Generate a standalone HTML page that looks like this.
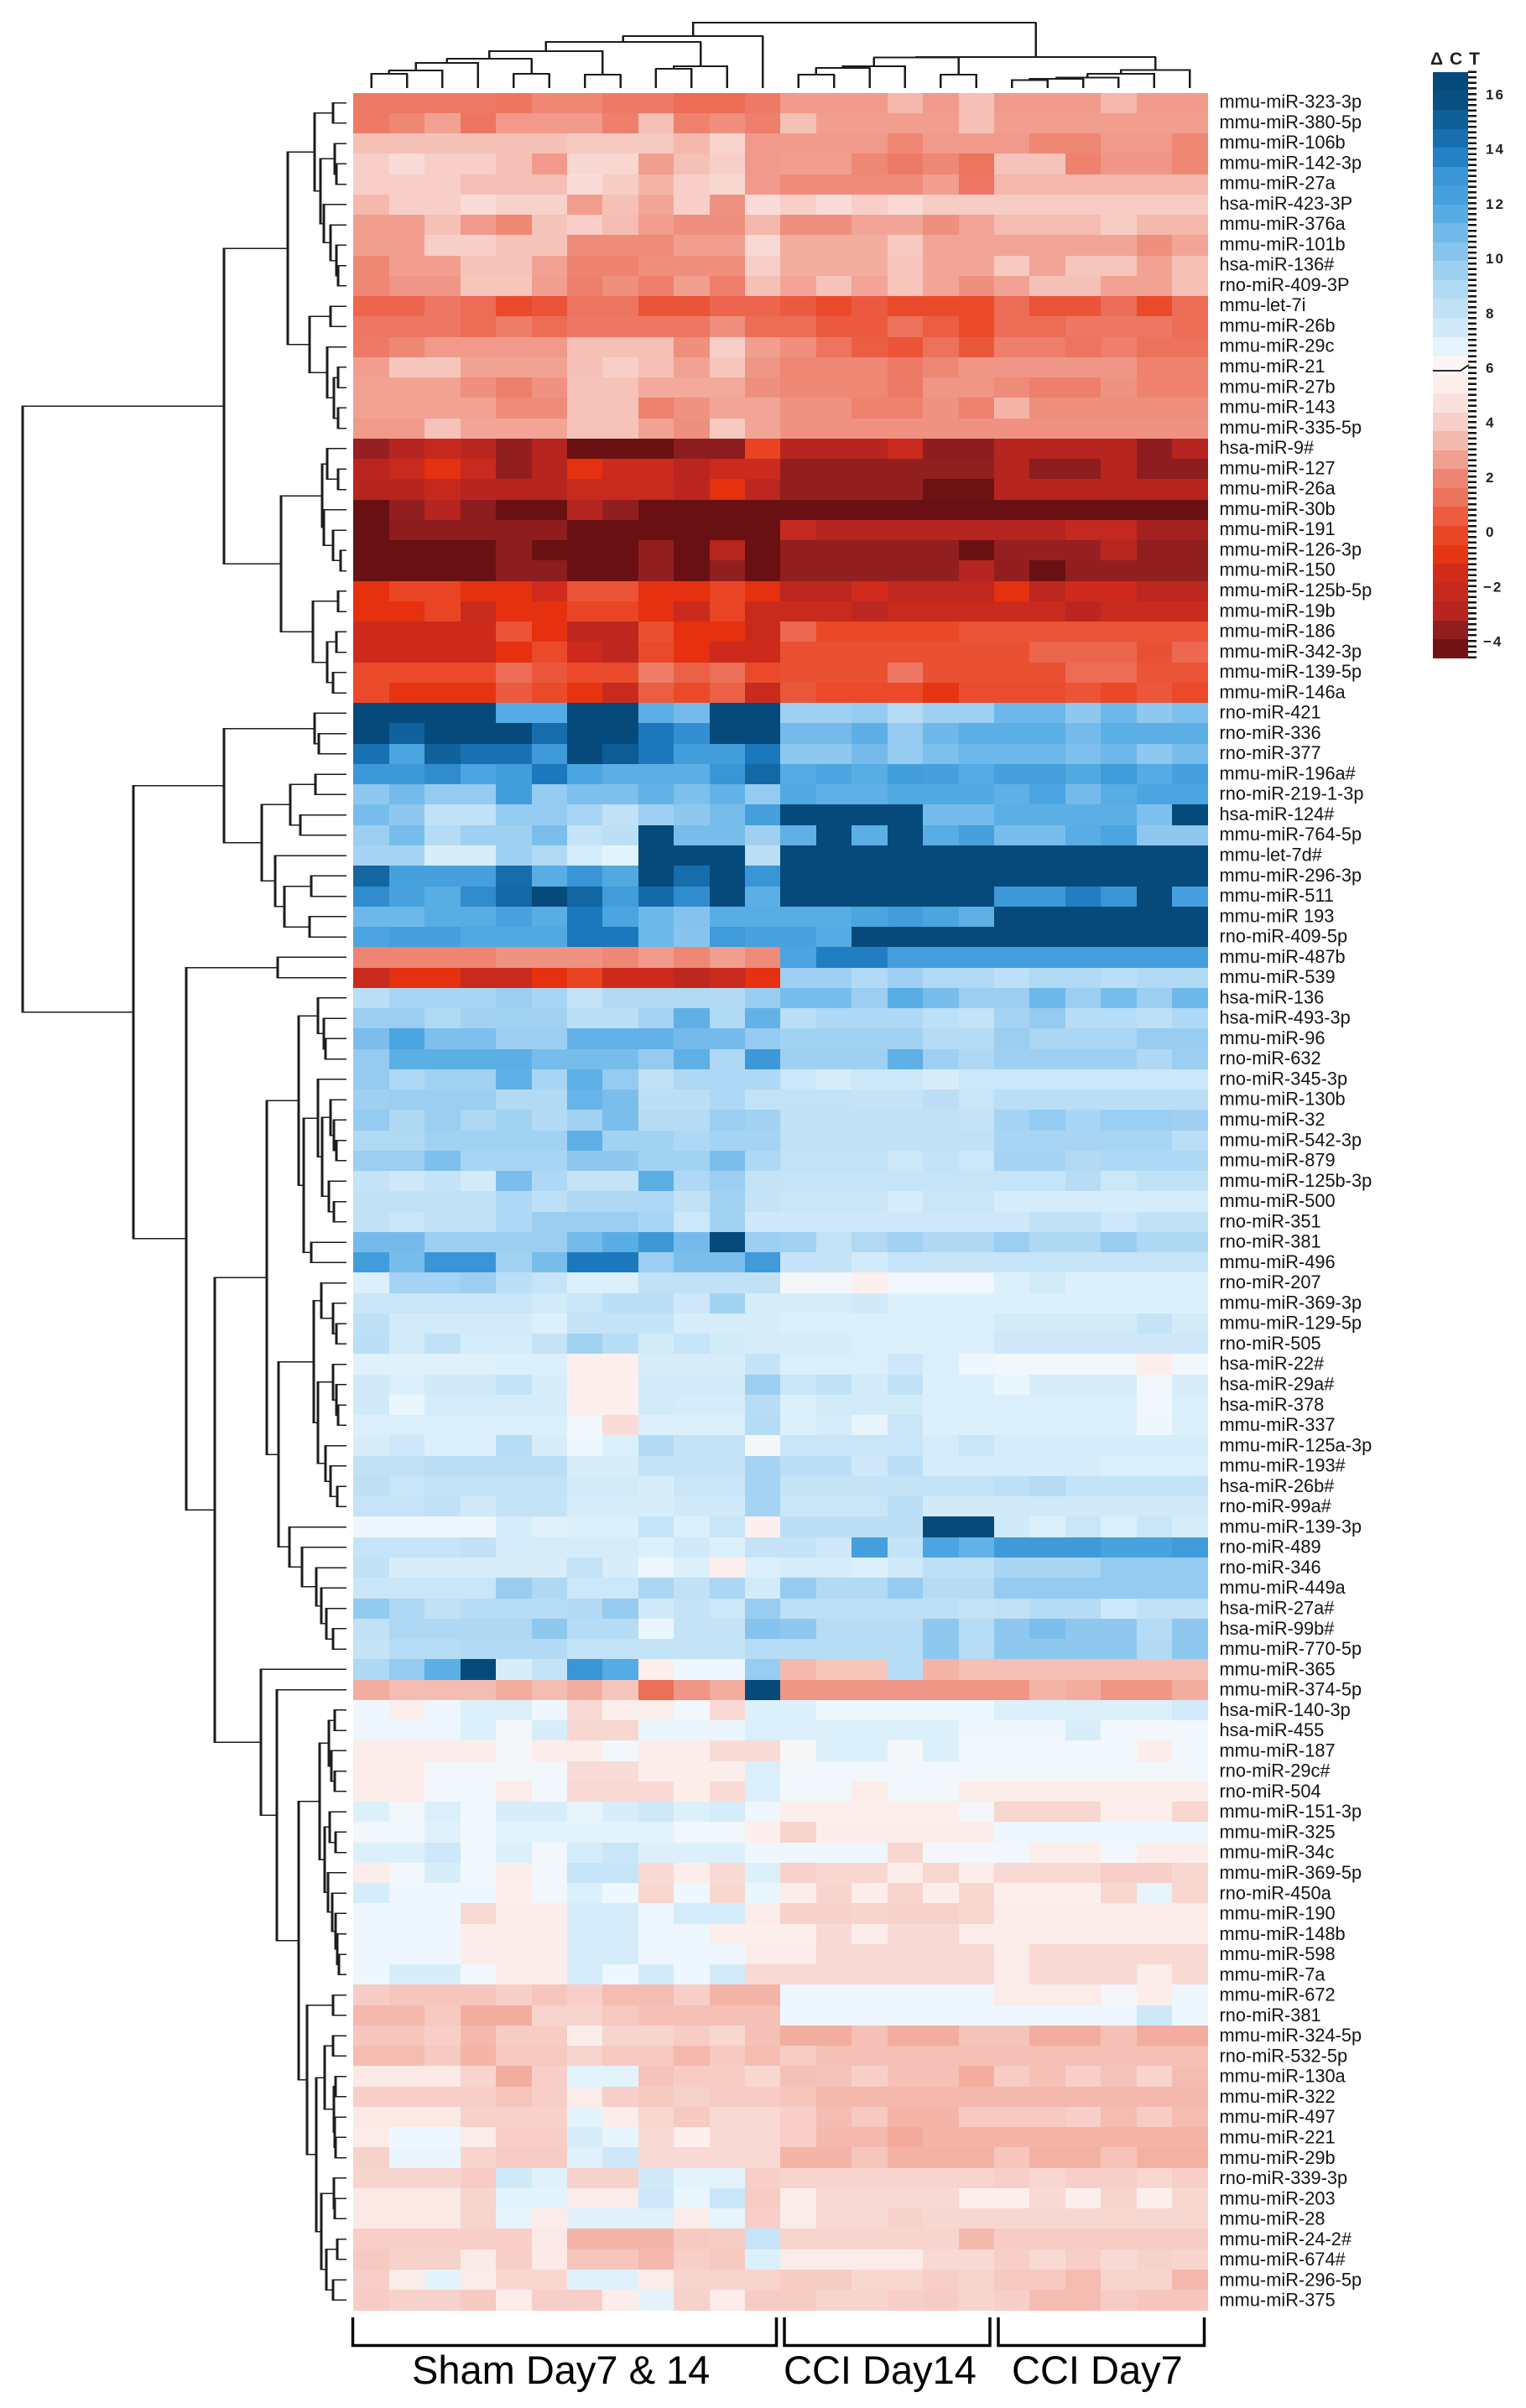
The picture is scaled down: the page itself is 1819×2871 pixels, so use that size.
<!DOCTYPE html>
<html lang="en">
<head>
<meta charset="utf-8">
<title>miRNA expression heatmap</title>
<style>
html,body{margin:0;padding:0;background:#fff;}
svg{display:block;font-family:"Liberation Sans",sans-serif;}
</style>
</head>
<body>
<svg id="chart" xmlns="http://www.w3.org/2000/svg" width="1819" height="2871" viewBox="0 0 1819 2871">
<rect x="0" y="0" width="1819" height="2871" fill="#ffffff"/>
<g id="heat" shape-rendering="crispEdges"></g>
<g id="rowDendro" shape-rendering="crispEdges"></g>
<g id="colDendro" shape-rendering="crispEdges"></g>
<g id="rowLabels"></g>
<g id="legend">
<text x="1705" y="77" font-size="21" font-weight="bold" fill="#222" textLength="59" lengthAdjust="spacing">ΔCT</text>
<g id="legendBands" shape-rendering="crispEdges"></g>
<g id="legendTicks" shape-rendering="crispEdges"></g>
<g id="legendLabels"></g>
<polyline points="1708,442 1741,442 1751,435" fill="none" stroke="#111" stroke-width="1.8"/>
</g>
<g fill="none" stroke="#0a0506">
<path d="M420.5 2763V2796.5H925.5V2763" stroke-width="3.5"/>
<path d="M935 2763V2796.5H1180V2763" stroke-width="3.5"/>
<path d="M1190 2763V2796.5H1435.5V2763" stroke-width="3.5"/>
</g>
<g font-size="47" fill="#000">
<text x="491" y="2842">Sham Day7 &amp; 14</text>
<text x="934" y="2842">CCI Day14</text>
<text x="1206" y="2842">CCI Day7</text>
</g>
</svg>
<script>
const rowNames = ["mmu-miR-323-3p","mmu-miR-380-5p","mmu-miR-106b","mmu-miR-142-3p","mmu-miR-27a","hsa-miR-423-3P","mmu-miR-376a","mmu-miR-101b","hsa-miR-136#","rno-miR-409-3P","mmu-let-7i","mmu-miR-26b","mmu-miR-29c","mmu-miR-21","mmu-miR-27b","mmu-miR-143","mmu-miR-335-5p","hsa-miR-9#","mmu-miR-127","mmu-miR-26a","mmu-miR-30b","mmu-miR-191","mmu-miR-126-3p","mmu-miR-150","mmu-miR-125b-5p","mmu-miR-19b","mmu-miR-186","mmu-miR-342-3p","mmu-miR-139-5p","mmu-miR-146a","rno-miR-421","rno-miR-336","rno-miR-377","mmu-miR-196a#","rno-miR-219-1-3p","hsa-miR-124#","mmu-miR-764-5p","mmu-let-7d#","mmu-miR-296-3p","mmu-miR-511","mmu-miR 193","rno-miR-409-5p","mmu-miR-487b","mmu-miR-539","hsa-miR-136","hsa-miR-493-3p","mmu-miR-96","rno-miR-632","rno-miR-345-3p","mmu-miR-130b","mmu-miR-32","mmu-miR-542-3p","mmu-miR-879","mmu-miR-125b-3p","mmu-miR-500","rno-miR-351","rno-miR-381","mmu-miR-496","rno-miR-207","mmu-miR-369-3p","mmu-miR-129-5p","rno-miR-505","hsa-miR-22#","hsa-miR-29a#","hsa-miR-378","mmu-miR-337","mmu-miR-125a-3p","mmu-miR-193#","hsa-miR-26b#","rno-miR-99a#","mmu-miR-139-3p","rno-miR-489","rno-miR-346","mmu-miR-449a","hsa-miR-27a#","hsa-miR-99b#","mmu-miR-770-5p","mmu-miR-365","mmu-miR-374-5p","hsa-miR-140-3p","hsa-miR-455","mmu-miR-187","rno-miR-29c#","rno-miR-504","mmu-miR-151-3p","mmu-miR-325","mmu-miR-34c","mmu-miR-369-5p","rno-miR-450a","mmu-miR-190","mmu-miR-148b","mmu-miR-598","mmu-miR-7a","mmu-miR-672","rno-miR-381","mmu-miR-324-5p","rno-miR-532-5p","mmu-miR-130a","mmu-miR-322","mmu-miR-497","mmu-miR-221","mmu-miR-29b","rno-miR-339-3p","mmu-miR-203","mmu-miR-28","mmu-miR-24-2#","mmu-miR-674#","mmu-miR-296-5p","mmu-miR-375"];

const deltaCt = [
[1.5,1.5,1.5,1.5,1.3,2,2,1.5,1.5,1,1,1.5,2.5,2.5,2.5,3.3,2.5,3.5,2.5,2.5,2.5,3.3,2.5,2.5],
[1.5,2,2.7,1.3,2.5,2.5,2.5,1.7,3.5,1.8,2.2,1.7,3.5,2.6,2.6,2.6,2.6,3.5,2.6,2.6,2.6,2.6,2.6,2.6],
[3.5,3.5,3.5,3.5,3.5,3.5,3.8,3.8,3.8,3.3,4.2,2.5,2.5,2.5,2.5,2,2.5,2.5,2.5,2,2,2.5,2.5,2],
[4,4.5,4,4,3.5,2.5,4.3,4.3,2.6,3.5,4,2.5,2.6,2.6,2,1.5,2,1.3,3.6,3.6,1.8,2.4,2.4,2],
[4,4,4,3.5,3.5,3.5,4.5,3.9,3.2,4,4.3,2.5,2.1,2.1,2.1,2.1,2.6,1.4,3.3,3.3,3.3,3.3,3.3,3.3],
[3.3,4,4,4.5,4.1,4.1,2.6,3.5,2.8,4,2.3,4.5,4,4.5,4,4.4,3.9,3.9,3.9,3.9,3.9,3.9,3.9,3.9],
[2.6,2.6,3.5,2.5,2,3.6,4,3.4,2.6,2.2,2.2,3.3,2.2,2.2,2.8,2.8,2.2,2.8,3.4,3.4,3.4,3.9,3.3,3.3],
[2.6,2.6,4,4,3.6,3.6,2.1,2.1,2.1,2.6,2.6,4.4,3,3,3,3.8,2.8,2.8,2.8,2.8,2.8,2.8,2.2,2.8],
[2,2.6,2.6,3.6,3.6,2.7,1.8,1.8,2.2,2.2,2.2,4,3,3,3,3.7,2.8,2.8,3.8,2.8,3.7,3.7,2.7,3.5],
[2,2.4,2.4,3.7,3.7,2.6,1.7,2.2,1.7,2.6,1.7,3.5,2.8,3.6,2.8,3.7,2.8,2.2,2.7,3.5,3.5,2.7,2.7,3.5],
[0.8,0.8,1.4,1,0,0.3,1.3,1.3,0.3,0.3,0.8,0.8,0.5,0,0.5,0,0,0,1,0.3,0.3,1,0,1],
[1.4,1.4,1.4,1,1.6,1,1.4,1.4,1.4,1.4,2.2,1,1,0.5,0.5,1.2,0.6,0,1,1,1.4,1.4,1.4,1],
[1.5,2,2.5,2.5,2.5,2.5,3.5,3.5,3.5,2.2,4,2.6,2.2,1.3,0.6,0.3,1.2,0.4,1.7,1.7,1.3,1.7,1.2,1.2],
[2.6,3.7,3.7,2.7,2.7,2.7,3.5,4,3.5,2.7,3.7,2.4,2,2,2,1.5,2,2.4,2.4,2.4,2.4,2.4,1.8,1.8],
[2.7,2.7,2.7,2.2,1.7,2.3,3.6,3.6,2.9,2.9,2.9,2.2,2,2,2,1.5,2.4,2.4,2.1,1.7,1.7,2.3,1.8,1.8],
[2.7,2.7,2.7,2.7,2.1,2.1,3.6,3.6,1.8,2.3,2.8,2.8,2.3,2.3,1.8,1.8,2.3,1.8,3.2,2.2,2.2,2.2,2.2,2.2],
[2.5,2.5,3.6,2.8,2.8,2.8,3.6,3.6,2.7,2.2,3.8,2.8,2.3,2.3,2.3,2.3,2.3,2.3,2.3,2.3,2.3,2.3,2.3,2.3],
[-3.5,-3,-2.2,-2.8,-3.6,-3,-4.5,-4.5,-4.5,-3.7,-3.7,-0.3,-3,-3,-3,-2,-3.7,-3.7,-3,-3,-3,-3,-3.7,-3],
[-2.8,-2,-1,-2,-3.6,-3,-1,-1.9,-1.9,-2.8,-1.9,-1.9,-3.6,-3.6,-3.6,-3.6,-3.6,-3.6,-3,-3.7,-3.7,-3,-3.7,-3.7],
[-3,-3,-2.2,-3,-3,-3,-2,-2,-2,-2.8,-1,-2.7,-3.6,-3.6,-3.6,-3.6,-4.4,-4.4,-3,-3,-3,-3,-3,-3],
[-4.5,-3.6,-3,-3.7,-4.5,-4.5,-3,-3.6,-4.5,-4.5,-4.5,-4.5,-4.5,-4.5,-4.5,-4.5,-4.5,-4.5,-4.5,-4.5,-4.5,-4.5,-4.5,-4.5],
[-4.5,-3.7,-3.7,-3.7,-3.7,-3.7,-4.5,-4.5,-4.5,-4.5,-4.5,-4.5,-2.2,-3,-3,-3,-3,-3,-3,-3,-2.3,-2.3,-3.3,-3.3],
[-4.5,-4.5,-4.5,-4.5,-3.7,-4.5,-4.5,-4.5,-3.6,-4.5,-2.9,-4.5,-3.6,-3.6,-3.6,-3.6,-3.6,-4.5,-3.5,-3.5,-3.5,-2.9,-3.6,-3.6],
[-4.5,-4.5,-4.5,-4.5,-3.7,-3.7,-4.5,-4.5,-3.6,-4.5,-3.6,-4.5,-3.6,-3.6,-3.6,-3.6,-3.6,-3,-3.6,-4.5,-3.6,-3.6,-3.6,-3.6],
[-1,-0.2,-0.2,-1,-1,-1.7,0.3,0.3,-1,-1,-0.2,-1,-2.7,-2.7,-1.7,-2.5,-2.5,-2.5,-1,-2.7,-1.8,-1.8,-2.7,-2.7],
[-1,-1,-0.2,-2,-1,-1,-0.2,-0.2,-1,-1.9,-0.2,-2,-2,-2,-2.7,-2,-2,-2,-2,-2,-2.8,-2,-2,-2],
[-1.8,-1.8,-1.8,-1.8,0.3,-1,-2.6,-2.6,0.2,-1,-1,-2,0.9,-0.1,-0.1,-0.1,-0.1,0.3,0.3,0.3,0.3,0.3,0.3,0.3],
[-1.8,-1.8,-1.8,-1.8,-1,0,-1.8,-2.6,0,-1,-1.8,-1.8,0.2,0.2,0.2,0.2,0.2,0.2,0.2,0.8,0.8,0.8,0.2,0.9],
[0,0,0,0,1,0.4,0,0,1.6,0.7,1.1,0,0.2,0.2,0.2,1.4,0.2,0.2,0.2,0.2,1,1,0.3,0.3],
[0,-0.9,-0.9,-0.9,0.5,0,-0.9,-2,0.6,0,0.7,-2,0.4,0,0,0,-0.9,0.1,0.1,0.1,0.3,-0.1,0.4,0],
[16,16,16,16,11.7,11.7,16,16,11.5,10.8,16,16,9.5,9.5,9.8,8.7,9.5,9.5,11,11,10,11,10,10.5],
[16,15,16,16,16,14.5,16,16,14,13.2,16,16,10.8,10.8,11.5,9.8,11,11.5,11.5,11.5,10.8,11.5,11.5,11.5],
[14.3,12,15,14.3,14.3,12.7,16,15.2,14,12.5,12.5,14,10,10,10.8,9.8,10.5,11,11,11,10.5,11,10,10.7],
[12.8,12.8,13.3,12,12.5,14,12,11.5,11.5,11.5,13,14.7,11.7,12,11.6,12.5,12.3,11.7,12.3,12.3,11.8,12.6,11.7,12.3],
[10,10.8,9.8,9.8,12.5,9.8,10.5,10.5,11.3,10.5,11.3,9.8,11.8,11.4,11.4,11.8,11.8,11.8,11.4,12,10.8,11.6,12,12],
[10.7,10,8.2,8.2,9.8,9.8,9.2,8.2,9.5,10,10.7,12.4,16,16,16,16,10.8,10.8,11.5,11.5,11.5,11.5,10.5,16],
[9.6,10.7,8.7,9.5,9.5,10.6,8,8.4,16,10.7,10.7,9.5,11.4,16,11.5,16,11.6,12.3,10.7,10.7,11.6,12,10,10],
[9.3,9.3,7.2,7.2,9.5,8.8,7.3,6.8,16,16,16,8.4,16,16,16,16,16,16,16,16,16,16,16,16],
[14.8,12.3,12.3,12.3,14.5,11.6,13,11.8,16,14.5,16,13,16,16,16,16,16,16,16,16,16,16,16,16],
[13.3,12.2,11.6,13.3,14.7,16,14.8,12.5,14.6,13.3,16,11.5,16,16,16,16,16,16,12.8,12.8,13.8,13,16,12.3],
[11,11,11.6,11.6,12.2,11.6,14,12,11,10.3,11.6,11.6,11.6,11.6,12,12.5,12,11.4,16,16,16,16,16,16],
[12,12.3,12.3,11.8,11.8,11.8,14,14,11,10.2,12.6,12.2,12.2,11.7,16,16,16,16,16,16,16,16,16,16],
[1.9,1.9,1.9,1.9,2.3,2.3,2.3,2,2.5,2,2.6,2.1,12,13.8,13.8,12.4,12.4,12.4,12.4,12.4,12.4,12.4,12.4,12.4],
[-2,-1,-1,-2,-2,-1,-0.3,-1.8,-1.8,-2.7,-2,-1,9.5,9.5,8.8,9.5,8.9,8.9,8.3,8.9,8.9,8.4,8.9,8.9],
[8.5,9.2,9.2,9.2,9.6,9.2,8,8.8,8.8,8.8,8.8,9.7,10.7,10.7,9.6,11.6,10.7,9.6,9.6,11,9.6,10.7,9.6,11],
[9.6,9.6,8.9,9.4,9.4,9.4,8.4,8.4,9.3,11.4,8.9,11.3,8.5,9,9,9,8.3,8,9.3,9.8,8.6,8.6,8.3,9],
[10.6,12,10.5,10.5,9.6,9.6,11.3,11.3,11.3,10.8,10.8,9.8,9.4,9.4,9.4,9.4,8.7,8.7,9.6,9.1,9.1,9.1,9.7,9.7],
[9.8,11.5,11.5,11.5,11.5,10.7,10.7,10.7,9.8,11.4,9,12.8,9.5,9.5,9.5,11.4,9.5,9,9.5,9.5,9.5,9.5,9,9.6],
[9.8,9,9.4,9.4,11.4,9.2,11.4,9.8,8.2,9,9,9,7.7,7.2,7.7,7.7,7.2,7.7,7.7,7.7,7.7,7.7,7.7,7.7],
[9.5,9.6,9.6,9.6,8.8,8.8,11.2,10.6,8.4,8.4,9,8.1,8.1,8.1,8,8,8.4,7.8,8.5,8.5,8.5,8.5,8.5,8.5],
[9.8,9,9.6,9,9.4,8.8,9.4,10.6,8.7,8.7,9.6,9.4,8.2,8.2,8.2,8.2,8.2,8,9.3,9.8,9.2,9.6,9.6,9.5],
[8.9,8.9,9.4,9.4,9.4,9.4,11.4,9.4,9.4,9,9.3,9.3,8.2,8.2,8.2,8.2,8.2,8.2,9.2,9.2,9.2,9.2,9.2,8.5],
[9.6,9.6,10.5,9.2,9.2,9.2,10,10,9.4,9.4,10.6,9,8.1,8.1,8.1,7.7,8.1,7.7,9.3,9.3,8.8,9,9,9],
[8,7.6,8,7.4,10.6,9,8,8,11.5,9,9.6,8,7.9,7.9,7.9,7.9,7.9,7.9,7.9,7.9,8.6,7.7,8.2,8.2],
[8.2,8.2,8.2,8.2,9,8.3,9,9,9,8.2,9.4,8,7.8,7.8,7.8,7.3,7.8,7.8,7.3,7.3,7.3,7.3,7.3,7.3],
[8.2,7.8,8.2,8.2,9,9.6,9.6,9.6,9.2,7.7,9.4,7.6,7.6,7.6,7.6,7.6,7.6,7.6,7.6,8.2,8.2,7.6,8.2,8.2],
[10.8,10.8,9.6,9.6,9.6,9.6,10.8,11.6,12.8,10.8,16,9.6,9.4,8.1,8.9,9.4,9,9,9.6,9,9,9.7,9,9],
[12.5,10.7,13,13,9.4,10.7,14,14,9.6,10.6,10.6,12.6,8,8,7.4,7.9,7.9,7.9,7.9,7.9,7.9,7.9,7.9,7.9],
[7,9.3,9.3,9.6,8.4,7.9,7,7,8.2,8.2,8.2,8.2,6.3,6.4,5.5,6.4,6.4,6.4,7,7.4,7,7,7,7],
[7.8,7.8,7.8,7.8,7.8,7.4,7.8,8.4,8.4,7.6,9.4,7.2,7.2,7.2,7.5,7,7,7,7,7,7,7,7,7],
[8.3,7.4,7.4,7.4,7.4,7,8,8,8,7.2,7.2,7.2,7,7,7,7,7,7,7.4,7.4,7.4,7.4,8,7.4],
[8.4,7.4,8.2,7.3,7.3,8,9.4,8.6,7.4,7.9,7.4,7.3,7.3,7.3,7,7,7,7,7.6,7.6,7.6,7.6,7.6,7.6],
[6.9,6.9,6.9,6.9,7,7,5.5,5.5,7.2,7.2,7.2,8,7.1,7.1,7.1,7.6,7.1,6.5,6.4,6.4,6.4,6.4,5.4,6.4],
[7.5,7.1,7.5,7.5,8,7.2,5.5,5.5,7.4,7.4,7.4,9.6,7.8,8.2,7.4,8.2,7,7,6.6,7.2,7.2,7.2,6.4,7.2],
[7.5,6.6,7.3,7.3,7.3,7.3,5.5,5.5,7.4,7.3,7.3,8.6,7,7.4,7.4,7.4,7.1,7.1,7.1,7.1,7.1,7.1,6.4,7.1],
[7.1,7.1,7.1,7.1,7.1,7.1,6.4,4.5,7,7,7,8.7,7,7.3,6.7,7.8,7,7,7,7,7,7,6.5,7],
[7.2,7.6,7,7,8.6,7.2,6.5,7,8.8,8,8,6.3,7.8,7.8,7.8,7.8,7.3,7.8,7.3,7.3,7.3,7.3,7.3,7.3],
[8.2,8.2,8.5,8.5,8.5,8.5,7.2,7.2,8,8,8,9.3,8.4,8.4,7.6,8.4,7.3,7.3,7.3,7.3,7.3,7.1,7.1,7.1],
[8.3,7.8,8.1,8.1,8.1,8.1,7.4,7.4,7.2,7.8,7.8,9.3,8,8,8,8,8,8,8.3,8.7,8.1,8.1,8.1,8.1],
[7.9,7.9,8.2,7.5,8,8,7.3,7.3,7.2,7.5,7.5,9.3,7.8,7.8,7.8,8.5,7.5,7.5,7.5,7.5,7.5,7.5,7.5,7.5],
[6.5,6.5,6.5,6.5,7.3,6.9,7,7,7.9,7,7.8,5.5,8.4,8.4,8.4,8.4,16,16,7.5,7,7.8,7.1,7.8,7.2],
[7.9,7.9,7.9,8.2,7.3,7.3,7.3,7.3,7,7.5,7,8,8,7.6,12.3,8,12,11.3,12.7,12.7,12.7,12.2,12.2,12.6],
[8.2,7.2,7.2,7.2,7.2,7.2,8,7.2,6.5,7,5.5,7,7.3,7.3,7,7.5,8.3,8.3,9.2,9.2,9.2,9.8,9.8,9.8],
[7.8,7.8,7.8,7.8,9.7,9,7.7,7.7,9.1,8.2,9.1,7.4,9.8,8.8,8.8,9.8,8.7,8.7,9.8,9.8,9.8,9.8,9.8,9.8],
[9.9,9,8.2,8.6,8.6,8.6,8.8,9.8,7.5,8,7.7,9.7,8.3,8.3,8.3,8.3,8.3,8,8.2,8.7,8.7,7.6,8.2,8.2],
[8.2,9,9,9,9,10,8.7,8.7,6.6,8,8,10.3,10,8.6,8.6,8.6,10,8.6,10,10.6,10,10,8.7,10],
[8,8.6,8.6,8.8,8.8,8.8,8.1,8.1,8,8,8,8.6,8.6,8.6,8.6,8.6,10,8.6,10,10,10,10,8.8,10],
[9,9.8,11.5,16,7.2,8,13,11.7,5.4,6.5,6.5,9.7,3.3,3.7,3.7,8.6,3.2,3.5,3.5,3.5,3.5,3.5,3.5,3.5],
[3,3.4,3.4,3.4,3,3.4,3,3.7,1.1,2.4,3,16,2.4,2.4,2.4,2.4,2.4,2.4,2.4,3.2,3,2.4,2.4,3],
[6.5,5.4,6.5,7,7,6.5,4.4,5.4,5.4,6.4,4.4,7,7,6.5,6.5,6.5,6.5,6.5,7,7,7,7,7,7.4],
[6.5,6.5,6.5,7,6.3,7.2,4.3,4.3,6.6,6.6,6.6,7.1,7,7,7,7,7,6.5,6.5,6.5,7.2,6.4,6.4,6.4],
[5.3,5.3,5.3,5.3,6.3,5.3,5.3,6.4,5.3,5.3,4.5,4.5,6.2,7,7,6.3,7,6.4,6.4,6.4,6.4,6.4,5.3,6.4],
[5.3,5.3,6.4,6.4,6.4,6.4,4.5,4.5,5.3,5.3,5.3,7.1,6.4,6.4,6.4,6.4,6.4,6.4,6.4,6.4,6.4,6.4,6.4,6.4],
[5.3,5.3,6.4,6.4,5.2,6.4,4.4,4.4,4.4,5.3,4.5,7.1,6.4,6.4,5.3,6.4,6.4,5.3,5.3,5.3,5.3,5.3,5.3,5.3],
[7,6.4,7.1,6.4,7.2,7.2,6.7,7.2,7.6,7,7.3,6.5,5.4,5.4,5.4,5.4,5.4,6.3,4.3,4.3,4.3,5.4,5.4,4.3],
[6.4,6.4,6.9,6.4,6.8,6.8,6.8,6.8,6.8,6.4,6.4,5.5,4.2,5.3,5.3,5.3,5.3,5.3,6.5,6.5,6.5,6.5,6.5,6.5],
[7,7,7.6,6.4,7,6.4,7.3,7.8,7,7,7,6.5,6.5,6.5,6.5,4.3,6.4,6.4,6.4,5.4,5.4,6.4,5.3,5.3],
[5.2,6.4,7.2,6.4,5.3,6.4,7.9,7.9,4.4,5.3,4.4,7,4.1,4.3,4.3,5.3,4.3,5.3,4.4,4.4,4.4,4,4,4.3],
[7.3,6.5,6.5,6.5,5.4,6.4,7,6.5,4.3,6.5,4.3,6.6,5.3,4.2,5.3,4.2,5.3,4.3,5.4,5.4,5.4,4.3,6.7,4.3],
[6.5,6.5,6.5,4.4,5.3,5.3,7.3,7.3,6.5,7.3,7.3,5.2,4.1,4.1,4.2,4.1,4.1,4.3,5.2,5.2,5.2,5.2,5.2,5.2],
[6.5,6.5,6.5,5.3,5.3,5.3,7.3,7.3,6.5,6.5,5.4,5.4,5.4,4.4,5.3,4.4,4.4,5.2,5.2,5.2,5.2,5.2,5.2,5.2],
[6.5,6.5,6.5,5.3,5.3,5.3,7.3,7.3,6.5,6.5,6.5,5.2,5.2,4.4,4.4,4.4,4.4,4.4,5.2,4.4,4.4,4.4,4.4,4.4],
[6.5,7.2,7.2,6.4,5.3,5.3,7.3,6.5,7.4,6.5,7.4,4.4,4.4,4.4,4.4,4.4,4.4,4.4,5.2,4.4,4.4,4.4,5.2,4.4],
[3.9,3.7,3.7,3.7,4,3.7,4,3.4,3.4,4,3.2,3.2,6.5,6.5,6.5,6.5,6.5,6.5,5.2,5.2,5.2,6.3,5.3,6.5],
[3.3,3.3,3.8,3,3,4.2,4.2,3.8,3.5,3.5,3.5,3.5,6.5,6.5,6.5,6.5,6.5,6.5,6.5,6.5,6.5,6.5,7.6,6.5],
[3.7,3.7,4,3.3,3.9,3.9,5.3,4.2,4.2,3.9,4.3,3.5,3,3,3.5,3,3,3.6,3.6,3,3,3.5,3,3],
[3.4,3.4,3.8,3.2,3.8,3.8,4.2,3.8,3.8,3.3,3.8,3.4,3.9,3.5,3.5,3.5,3.5,3.5,3.5,3.5,3.5,3.5,3.5,3.5],
[5,5,5,4.2,3,4,6.8,6.8,3.6,3.9,3.9,4.3,3.5,3.6,4,3.5,3.5,3,3.9,3.5,4,3.6,4.2,3.4],
[4,4,4,4,3.7,4,5.2,4,3.8,4.1,3.9,3.9,3.7,3.3,3.3,3.3,3.3,3.3,3.3,3.3,3.3,3.3,3.3,3.3],
[5,5,5,4.1,4.1,4.1,6.8,5.2,4.3,3.8,4.4,4.4,4,3.4,3.8,3.2,3.2,3.8,3.8,3.8,4,3.4,3.9,3.4],
[5.2,6.5,6.5,5.2,4,4,7.2,6.7,4.4,5.5,4.4,4.4,4,3.3,3.3,2.9,3.2,3.2,3.2,3.2,3.2,3.2,3.2,3.2],
[4.1,6.6,6.6,4.2,3.9,3.9,6.9,7.6,4.4,4.4,4.4,4.4,3.2,3.2,3.7,3.1,3.1,3.1,3.7,3.1,3.1,3.6,3.1,3.1],
[4.2,4.2,4.2,3.9,7.5,6.9,4.1,4.1,7.5,6.8,6.8,4,4.2,4.2,4.2,4.2,4.2,4.2,4,4.3,4,4,4.3,4],
[5,5,5,4.2,6.8,6.8,5.2,5.2,7.6,6.6,7.8,3.9,5.2,4.4,4.4,4.4,4.4,5.4,5.4,4.4,5.4,4.2,5.4,4.3],
[5,5,5,4.2,6.7,5.2,6.9,6.9,6.9,5.2,6.7,4,5.2,4.4,4.4,4.1,4.3,4.3,4.3,4.3,4.3,4.3,4.3,4.3],
[4,4,4,4,4,5,3.2,3.2,3.2,3.8,3.9,7.9,4.2,4.2,4.2,4.2,4.2,3.3,3.9,3.9,3.9,3.9,3.9,3.9],
[3.8,4.1,4.1,5.1,4,5.1,3.7,3.7,3.3,4,3.8,7,5.2,5.2,5.2,5.2,4.4,4.4,4,4.4,4,4.4,4.1,4.2],
[4,5.2,6.8,5.2,4.3,4.3,6.9,6.9,5.2,4.2,4.2,4.2,3.9,3.9,4.3,4.3,4,4.2,3.8,3.8,3.4,4.2,4.2,3.3],
[3.9,4.1,4.1,3.8,5.2,4,4,5.3,6.8,4.1,5.2,3.9,3.9,4.2,4.2,4,3.9,4.2,4,3.4,3.4,3.9,3.7,3.7]
];

// merge trees: [merge height, child, child]; integer children are 1-based leaf numbers
const rowTree = [386,
 [146,
  [70,
   [38,[16,1,2],[31,[14,3,[12,4,5]],[27,6,[19,7,[12,8,[10,9,10]]]]]],
   [44,[19,11,12],[23,13,[15,[10,14,15],[10,16,17]]]]
  ],
  [78,
   [29,[23,18,[10,19,20]],[27,21,[16,22,[7,23,24]]]],
   [40,[10,25,26],[23,[12,27,28],[16,29,30]]]
  ]
 ],
 [254,
  [146,
   [38,31,[33,32,33]],
   [101,[67,[37,34,35],[55,36,37]],[85,38,[74,[42,39,40],[44,41,42]]]]
  ],
  [191,
   [82,43,44],
   [157,
    [95,
     [57,
      [34,45,[27,46,[25,47,48]]],
      [51,[34,49,[29,[19,50,[15,51,[12,52,53]]],[21,54,[15,55,56]]]],[42,57,58]]
     ],
     [81,
      [39,[30,59,[16,60,[12,61,62]]],[34,[16,63,[12,64,[10,65,66]]],[25,67,[19,68,[11,69,70]]]]],
      [68,71,[53,72,[36,73,[30,74,[24,75,[16,76,77]]]]]]
     ]
    ],
    [102,78,
     [83,79,
      [57,
       [32,[21,[14,80,81],[18,82,[14,83,84]]],[26,[20,85,[13,86,87]],[22,88,[17,89,[13,90,[11,91,[9,92,93]]]]]]],
       [47,[16,94,95],
        [36,
         [26,[16,96,97],[15,[13,98,99],[14,100,[13,101,102]]]],
         [30,[15,103,[14,104,105]],[24,[11,106,107],[16,108,109]]]
        ]
       ]
      ]
     ]
    ]
   ]
  ]
 ]
];
const colTree = [78,
 [62,[55,[44,[35,[30,[21,[17,1,2],3],4],[17,5,6]],[16,7,8]],[26,[23,9,10],11]],12],
 [37,[36.6,[26,[24,[16,13,14],15],16],[16,17,18]],[21.4,[17,[12.5,[11,[9.5,19,20],21],22],23],24]]
];

const legendTickValues = [16,14,12,10,8,6,4,2,0,-2,-4];
const legendTickText = ["16","14","12","10","8","6","4","2","0","\u22122","\u22124"];

const colorDomain = [-4.5,-3.5,-3,-2,-1.5,-1,0,0.5,1,1.5,2,2.5,3,3.5,4,4.5,5,6,6.5,7,8,9,10,11,12,13,14,16];
const colorRange = ["#691112","#962021","#b6251f","#c92a1e","#d42b1a","#e5310f","#ea4a2a","#eb5a3f","#ec6c55","#ed7a66","#ee8774","#f19a8b","#f3ad9f","#f5c0b6","#f7cfc8","#f9dcd7","#fbe9e6","#fdf5f3","#eef7fd","#dcf0fb","#c4e3f7","#aed8f4","#8fc8ef","#6db8ea","#4aa5e0","#3a95d6","#1b78bd","#054a7a"];

const SVGNS = "http://www.w3.org/2000/svg";
const heatLeft = 421.4, heatRight = 1439.5, heatTop = 110.5, heatBottom = 2754.5;
const colCount = deltaCt[0].length, rowCount = deltaCt.length;
const cellW = (heatRight - heatLeft) / colCount;
const cellH = (heatBottom - heatTop) / rowCount;

function xCol(c) { return heatLeft + c * cellW; }
function yRow(r) { return heatTop + r * cellH; }
function yLabel(r) { return 121 + r * 24.27; }
function xRowTree(h) { return 413 - h; }
function yColTree(h) { return 105 - h; }
function yLegend(v) { return 438 - (v - 6) * 32.6; }

function hex(s) { return [1, 3, 5].map(function (i) { return parseInt(s.substr(i, 2), 16); }); }
function colorOf(v) {
  if (v <= colorDomain[0]) return colorRange[0];
  const n = colorDomain.length - 1;
  if (v >= colorDomain[n]) return colorRange[n];
  let i = 0;
  while (v > colorDomain[i + 1]) i++;
  const t = (v - colorDomain[i]) / (colorDomain[i + 1] - colorDomain[i]);
  const a = hex(colorRange[i]), b = hex(colorRange[i + 1]);
  return "rgb(" + a.map(function (q, k) { return Math.round(q + (b[k] - q) * t); }).join(",") + ")";
}

function make(tag, parent) {
  const el = document.createElementNS(SVGNS, tag);
  parent.appendChild(el);
  return el;
}

const heatGroup = document.getElementById("heat");
deltaCt.forEach(function (row, r) {
  row.forEach(function (v, c) {
    const cell = make("rect", heatGroup);
    
    
    const x0 = Math.round(xCol(c)), x1 = Math.round(xCol(c + 1));
    const y0 = Math.round(yRow(r)), y1 = Math.round(yRow(r + 1));
    cell.setAttribute("x", x0);
    cell.setAttribute("y", y0);
    cell.setAttribute("width", x1 - x0);
    cell.setAttribute("height", y1 - y0);
    cell.setAttribute("fill", colorOf(v));
  });
});

const labelGroup = document.getElementById("rowLabels");
rowNames.forEach(function (name, r) {
  const t = make("text", labelGroup);
  
  
  t.setAttribute("x", 1453.5);
  t.setAttribute("y", yLabel(r) + 7.5);
  t.setAttribute("font-size", 21.8);
  t.setAttribute("fill", "#151515");
  t.textContent = name;
});

function drawLine(group, x1, y1, x2, y2, w) {
  const l = make("line", group);
  
  
  l.setAttribute("x1", x1);
  l.setAttribute("y1", y1);
  l.setAttribute("x2", x2);
  l.setAttribute("y2", y2);
  l.setAttribute("stroke", "#1c1c1c");
  l.setAttribute("stroke-width", w);
}

const rowDendroGroup = document.getElementById("rowDendro");
function drawRowNode(node) {
  if (typeof node === "number") return { x: 413, y: yRow(node - 0.5) };
  const a = drawRowNode(node[1]), b = drawRowNode(node[2]);
  const x = xRowTree(node[0]);
  drawLine(rowDendroGroup, x, a.y, a.x, a.y, 1.5);
  drawLine(rowDendroGroup, x, b.y, b.x, b.y, 1.5);
  drawLine(rowDendroGroup, x, a.y - 0.75, x, b.y + 0.75, 3);
  return { x: x, y: (a.y + b.y) / 2 };
}
drawRowNode(rowTree);

const colDendroGroup = document.getElementById("colDendro");
function drawColNode(node) {
  if (typeof node === "number") return { x: xCol(node - 0.5), y: 105 };
  const a = drawColNode(node[1]), b = drawColNode(node[2]);
  const y = yColTree(node[0]);
  drawLine(colDendroGroup, a.x, y, a.x, a.y, 2.5);
  drawLine(colDendroGroup, b.x, y, b.x, b.y, 2.5);
  drawLine(colDendroGroup, a.x - 1, y, b.x + 1, y, 2);
  return { x: (a.x + b.x) / 2, y: y };
}
const colRootLeft = drawColNode(colTree[1]);
const colRootRight = drawColNode(colTree[2]);
const colRootY = yColTree(colTree[0]);
drawLine(colDendroGroup, colRootLeft.x, colRootY, colRootLeft.x, colRootLeft.y, 2.5);
drawLine(colDendroGroup, colRootRight.x, colRootY, colRootRight.x, colRootRight.y, 2.5);
drawLine(colDendroGroup, colRootLeft.x - 1, colRootY, colRootRight.x + 1, colRootY, 2);

const legendMax = 16.8, legendMin = -4.64, legendBandCount = 31;
const bandGroup = document.getElementById("legendBands");
for (let i = 0; i < legendBandCount; i++) {
  const hi = legendMax - i * (legendMax - legendMin) / legendBandCount;
  const lo = hi - (legendMax - legendMin) / legendBandCount;
  const band = make("rect", bandGroup);
  
  
  band.setAttribute("x", 1708);
  band.setAttribute("y", Math.round(yLegend(hi)));
  band.setAttribute("width", 42);
  band.setAttribute("height", Math.round(yLegend(lo)) - Math.round(yLegend(hi)));
  band.setAttribute("fill", colorOf((hi + lo) / 2));
}
const tickGroup = document.getElementById("legendTicks");
for (let v = legendMax; v > legendMin; v -= 0.2) {
  const tick = make("line", tickGroup);
  
  
  tick.setAttribute("x1", 1750);
  tick.setAttribute("x2", 1760);
  tick.setAttribute("y1", yLegend(v));
  tick.setAttribute("y2", yLegend(v));
  tick.setAttribute("stroke", "#111");
  tick.setAttribute("stroke-width", 2.5);
}
const legendLabelGroup = document.getElementById("legendLabels");
legendTickValues.forEach(function (v, i) {
  const t = make("text", legendLabelGroup);
  
  
  t.setAttribute("x", v < 0 ? 1768 : 1771);
  t.setAttribute("y", yLegend(v) + 6.5);
  t.setAttribute("font-size", 17);
  t.setAttribute("font-weight", "bold");
  t.setAttribute("letter-spacing", "2");
  t.setAttribute("fill", "#222");
  t.textContent = legendTickText[i];
});
</script>
</body>
</html>
